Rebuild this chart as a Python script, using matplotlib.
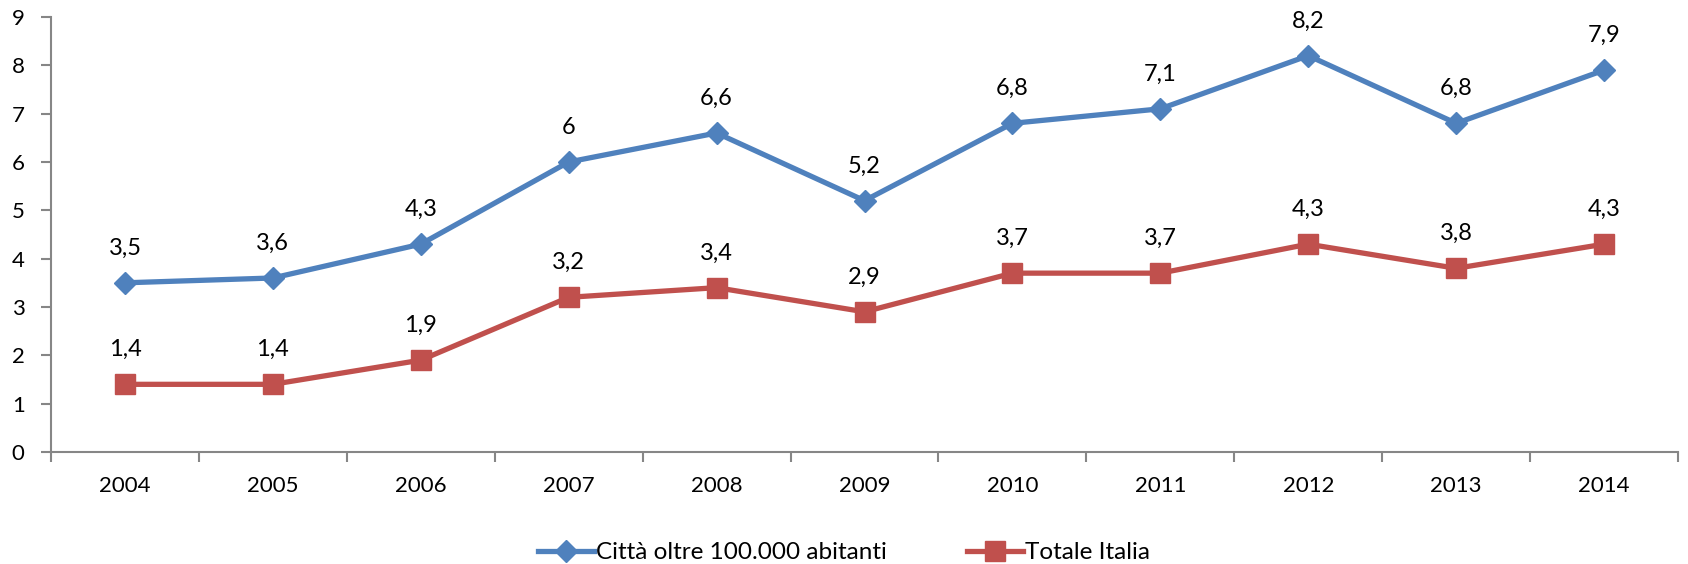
import numpy as np
from matplotlib import pyplot as plt

plt.rcParams['font.family'] = ['Lato', 'DejaVu Sans']

anni = ['2004', '2005', '2006', '2007', '2008', '2009', '2010', '2011', '2012', '2013', '2014']
citta = [3.5, 3.6, 4.3, 6.0, 6.6, 5.2, 6.8, 7.1, 8.2, 6.8, 7.9]
italia = [1.4, 1.4, 1.9, 3.2, 3.4, 2.9, 3.7, 3.7, 4.3, 3.8, 4.3]

blu = '#4F81BD'
rosso = '#C0504D'
grigio = '#868686'

fig = plt.figure(figsize=(16.88, 5.64), dpi=100)
ax = fig.add_axes([0.0302, 0.1986, 0.9639, 0.7713])

x = np.arange(len(anni))
ax.plot(x, citta, color=blu, lw=3.8, marker='D', markersize=11, label='Città oltre 100.000 abitanti')
ax.plot(x, italia, color=rosso, lw=3.8, marker='s', markersize=14, label='Totale Italia')


def etichetta(v):
    s = ('%.1f' % v).replace('.', ',')
    return s[:-2] if s.endswith(',0') else s


for serie in (citta, italia):
    for xi, v in zip(x, serie):
        ax.annotate(etichetta(v), (xi, v), xytext=(0, 25), textcoords='offset points',
                    ha='center', va='center', fontsize=17)

ax.set_xlim(-0.5, len(anni) - 0.5)
ax.set_ylim(0, 9)
ax.set_yticks(range(10))
ax.set_xticks(x)
ax.set_xticklabels(anni)
ax.set_xticks(np.arange(-0.5, len(anni)), minor=True)
ax.tick_params(axis='x', which='major', length=0, pad=17, labelsize=16)
ax.tick_params(axis='x', which='minor', length=7, width=1.5, color=grigio)
ax.tick_params(axis='y', length=7, width=1.5, color=grigio, pad=12, labelsize=16)

for s in ('top', 'right'):
    ax.spines[s].set_visible(False)
for s in ('left', 'bottom'):
    ax.spines[s].set_color(grigio)
    ax.spines[s].set_linewidth(1.5)

fig.legend(loc='center', bbox_to_anchor=(0.5, 0.02), ncol=2, frameon=False,
           fontsize=17.5, handlelength=2.3, handletextpad=0.1, columnspacing=3.3)

plt.savefig('out.png', dpi=100)
